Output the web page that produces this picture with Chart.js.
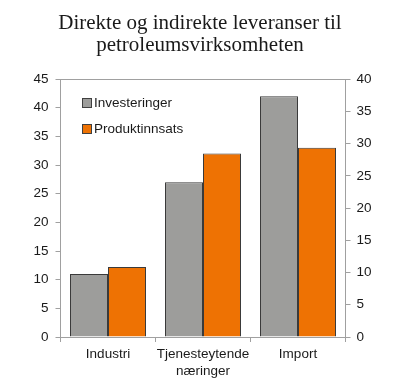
<!DOCTYPE html>
<html>
<head>
<meta charset="utf-8">
<script src="https://cdn.jsdelivr.net/npm/chart.js@4/dist/chart.umd.min.js"></script>
<style>
  html, body { margin: 0; padding: 0; background: #fff; }
</style>
</head>
<body>
<canvas id="leveranser" width="400" height="391"></canvas>
<script>
const categories = ['Industri', ['Tjenesteytende', 'næringer'], 'Import'];
const investeringer = [11, 27, 42];
const produktinnsats = [12.2, 32, 33];
const leftTicks = [0, 45, 5];   // min, max, step
const rightTicks = [0, 40, 5];

const axisGray = '#a0a0a0';
const textColor = '#1a1a1a';

// draws the legend inside the plot area and the top frame line
const insideLegend = {
  id: 'insideLegend',
  afterDraw(chart) {
    const { ctx, chartArea } = chart;
    ctx.save();
    ctx.strokeStyle = axisGray;
    ctx.lineWidth = 1;
    ctx.beginPath();
    ctx.moveTo(Math.floor(chartArea.left), Math.round(chartArea.top) + 0.5);
    ctx.lineTo(Math.ceil(chartArea.right), Math.round(chartArea.top) + 0.5);
    ctx.stroke();

    ctx.font = '13.5px "Liberation Sans", Arial, sans-serif';
    ctx.textBaseline = 'middle';
    chart.data.datasets.forEach((ds, i) => {
      const x = Math.round(chartArea.left + 21) + 0.5;
      const y = Math.round(chartArea.top + 24 + i * 26);
      ctx.fillStyle = ds.backgroundColor;
      ctx.fillRect(x, y - 4.5, 9, 9);
      ctx.strokeStyle = '#404040';
      ctx.strokeRect(x, y - 4.5, 9, 9);
      ctx.fillStyle = textColor;
      ctx.fillText(ds.label, x + 11.5, y + 0.5);
    });
    ctx.restore();
  }
};

const barBorder = { top: 1, left: 1, right: 1, bottom: 0 };

const ctx = document.getElementById('leveranser');
new Chart(ctx, {
  type: 'bar',
  data: {
    labels: categories,
    datasets: [{
      label: 'Investeringer',
      data: investeringer,
      backgroundColor: '#9d9d9b',
      borderColor: '#3a3a3a',
      borderWidth: barBorder,
      borderSkipped: false,
      inflateAmount: 0,
      yAxisID: 'y'
    }, {
      label: 'Produktinnsats',
      data: produktinnsats,
      backgroundColor: '#ee7203',
      borderColor: '#3a3a3a',
      borderWidth: barBorder,
      borderSkipped: false,
      inflateAmount: 0,
      yAxisID: 'y'
    }]
  },
  options: {
    responsive: false,
    animation: false,
    devicePixelRatio: 1,
    layout: { padding: 0 },
    categoryPercentage: 0.8,
    barPercentage: 1.0,
    plugins: {
      legend: { display: false },
      tooltip: { enabled: false },
      title: {
        display: true,
        text: ['Direkte og indirekte leveranser til', 'petroleumsvirksomheten'],
        color: textColor,
        font: { family: '"Liberation Serif", "Times New Roman", serif', size: 21, weight: 'normal', lineHeight: 1.05 },
        padding: { top: 12, bottom: 23 }
      }
    },
    scales: {
      x: {
        grid: { display: true, drawOnChartArea: false, drawTicks: true, tickLength: 5, color: axisGray, offset: true },
        border: { display: true, color: axisGray },
        ticks: { autoSkip: false, color: textColor, font: { family: '"Liberation Sans", Arial, sans-serif', size: 13.5, lineHeight: 1.25 }, padding: 4, maxRotation: 0 },
        afterFit: (scale) => { scale.height = 54; }
      },
      y: {
        position: 'left',
        min: leftTicks[0],
        max: leftTicks[1],
        ticks: { stepSize: leftTicks[2], color: textColor, font: { family: '"Liberation Sans", Arial, sans-serif', size: 13.5 }, padding: 7 },
        grid: { display: true, drawOnChartArea: false, drawTicks: true, tickLength: 5, color: axisGray },
        border: { display: true, color: axisGray },
        afterFit: (scale) => { scale.width = 60.5; }
      },
      y2: {
        position: 'right',
        min: rightTicks[0],
        max: rightTicks[1],
        ticks: { stepSize: rightTicks[2], color: textColor, font: { family: '"Liberation Sans", Arial, sans-serif', size: 13.5 }, padding: 6 },
        grid: { display: true, drawOnChartArea: false, drawTicks: true, tickLength: 5, color: axisGray },
        border: { display: true, color: axisGray },
        afterFit: (scale) => { scale.width = 54.5; }
      }
    }
  },
  plugins: [insideLegend]
});
</script>
</body>
</html>
